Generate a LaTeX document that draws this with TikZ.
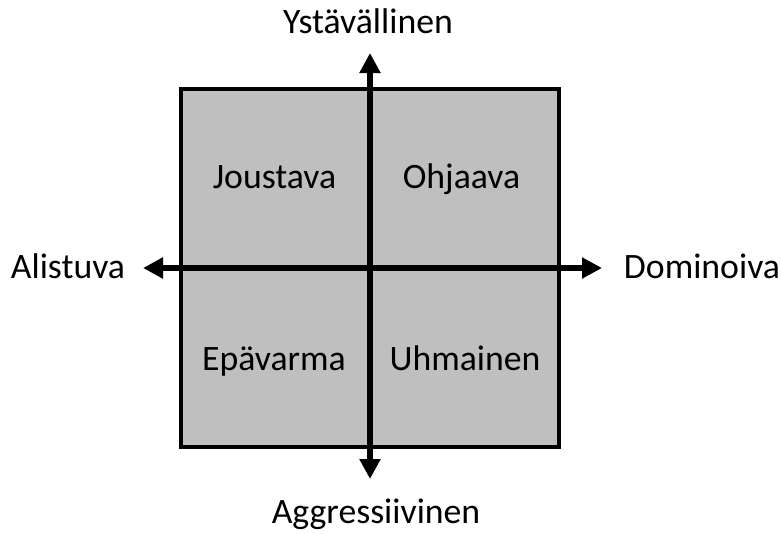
\documentclass[tikz,border=0pt]{standalone}
\usepackage{fontspec}
\setmainfont{Carlito}
\usepackage{tikz}
\usetikzlibrary{arrows.meta, positioning}
\definecolor{mydark}{RGB}{0,0,0}
\definecolor{mygray}{RGB}{191,191,191}
\tikzset{
  quadbox/.style={draw=mydark, fill=mygray, line width=2.3pt},
  axis/.style={{Triangle[width=15pt, length=15pt]}-{Triangle[width=15pt, length=15pt]},
    line width=4.2pt, color=mydark},
  axislabel/.style={anchor=base, inner sep=0pt, font=\fontsize{26.8}{30}\selectfont},
  quadlabel/.style={anchor=base, inner sep=0pt, font=\fontsize{26.8}{30}\selectfont}
}

\begin{document}
\begin{tikzpicture}[x=0.75pt, y=-0.75pt]
  \useasboundingbox (0,0) rectangle (781,533);

  % --- QUADRANT BOX ---
  \draw[quadbox] (181,89) rectangle (559,447);

  \node[quadlabel] (joustava) at (274.5,188) {Joustava};
  \node[quadlabel] (ohjaava) at (461.5,188) {Ohjaava};
  \node[quadlabel] (epavarma) at (274,370) {Epävarma};
  \node[quadlabel] (uhmainen) at (465,370) {Uhmainen};

  % --- AXES ---
  \coordinate (ytop) at (370,53);
  \coordinate (ybot) at (370,479);
  \coordinate (xleft) at (143,268);
  \coordinate (xright) at (602,268);

  \draw[axis] (xleft) -- (xright);
  \draw[axis] (ybot) -- (ytop);

  \node[axislabel] (ystav) at (368,33) {Ystävällinen};
  \node[axislabel] (aggr) at (376,523) {Aggressiivinen};
  \node[axislabel] (alist) at (68,278) {Alistuva};
  \node[axislabel] (domin) at (702,278) {Dominoiva};
\end{tikzpicture}
\end{document}
